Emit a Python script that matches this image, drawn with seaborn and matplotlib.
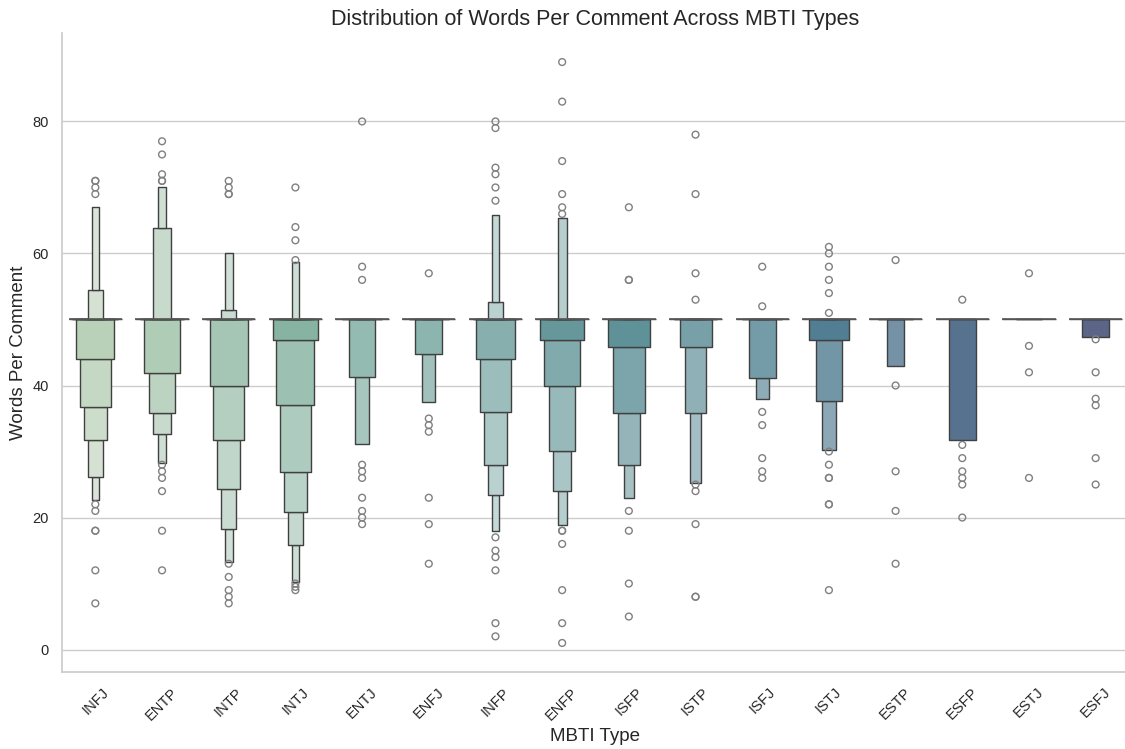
import numpy as np
import pandas as pd
import matplotlib
matplotlib.use("Agg")
import matplotlib.pyplot as plt
import seaborn as sns

# MBTI types in order of first appearance
mbti_types = ["INFJ", "ENTP", "INTP", "INTJ", "ENTJ", "ENFJ", "INFP", "ENFP",
              "ISFP", "ISTP", "ISFJ", "ISTJ", "ESTP", "ESFP", "ESTJ", "ESFJ"]

# Words-per-comment samples, stored as distinct values and how often each occurs
infj_words = [7, 12, 18, 21, 22, 22.7, 26.2, 31.8, 36.8, 44, 50, 54.4, 67, 69, 70, 71]
infj_counts = [1, 1, 2, 1, 1, 8, 14, 28, 56, 112, 1541, 14, 10, 1, 1, 2]

entp_words = [12, 18, 24, 26, 27, 28, 28.3, 32.6, 35.8, 41.9, 50, 63.8, 70.1, 71, 72, 75, 77]
entp_counts = [1, 1, 1, 1, 1, 1, 8, 14, 28, 56, 757, 14, 9, 2, 1, 1, 1]

intp_words = [7, 8, 9, 11, 13, 13.3, 18.3, 24.3, 31.8, 40, 50, 51.5, 60, 69, 70, 71]
intp_counts = [1, 1, 1, 1, 1, 9, 14, 28, 56, 112, 1541, 14, 10, 2, 1, 1]

intj_words = [9, 9.5, 10, 10.3, 15.8, 20.8, 26.9, 37, 46.9, 50, 58.7, 59, 62, 64, 70]
intj_counts = [1, 1, 1, 11, 14, 28, 56, 112, 224, 1331, 10, 1, 1, 1, 1]

entj_words = [19, 20, 21, 23, 26, 27, 28, 31.1, 41.3, 50, 56, 58, 80]
entj_counts = [1, 1, 1, 1, 1, 1, 1, 7, 14, 194, 1, 1, 1]

enfj_words = [13, 19, 23, 33, 34, 35, 37.5, 44.8, 50, 57]
enfj_counts = [1, 1, 1, 1, 1, 1, 8, 14, 196, 1]

infp_words = [2, 4, 12, 14, 15, 17, 18, 23.4, 28, 36, 44, 50, 52.6, 65.9,
              68, 70, 72, 73, 79, 80]
infp_counts = [1, 1, 1, 1, 1, 1, 8, 14, 28, 56, 112, 1541, 14, 8,
               1, 1, 1, 1, 1, 1]

enfp_words = [1, 4, 9, 16, 18, 18.9, 24, 30.1, 40, 46.9, 50, 65.4,
              66, 67, 69, 74, 83, 89]
enfp_counts = [1, 1, 1, 1, 2, 8, 14, 28, 56, 112, 659, 8,
               1, 1, 1, 1, 1, 1]

isfp_words = [5, 10, 18, 21, 22.9, 28, 35.8, 45.9, 50, 56, 67]
isfp_counts = [1, 1, 1, 1, 10, 14, 28, 56, 334, 2, 1]

istp_words = [8, 19, 24, 25, 25.2, 35.9, 45.9, 50, 53, 57, 69, 78]
istp_counts = [2, 1, 1, 1, 9, 14, 28, 389, 1, 1, 1, 1]

isfj_words = [26, 27, 29, 34, 36, 37.9, 41.2, 50, 52, 58]
isfj_counts = [1, 1, 1, 1, 1, 9, 14, 195, 1, 1]

istj_words = [9, 22, 26, 28, 30, 30.3, 37.7, 46.9, 50, 51, 54, 56, 58, 60, 61]
istj_counts = [1, 2, 2, 1, 1, 7, 14, 28, 163, 1, 1, 1, 1, 1, 1]

estp_words = [13, 21, 27, 40, 43, 50, 59]
estp_counts = [1, 1, 1, 1, 10, 98, 1]

esfp_words = [20, 25, 26, 27, 29, 31, 31.8, 50, 53]
esfp_counts = [1, 1, 1, 1, 1, 1, 8, 42, 1]

estj_words = [26, 42, 46, 50, 57]
estj_counts = [1, 1, 1, 53, 1]

esfj_words = [25, 29, 37, 38, 42, 47, 47.3, 50]
esfj_counts = [1, 1, 1, 1, 1, 1, 8, 43]

samples = {
    "INFJ": (infj_words, infj_counts), "ENTP": (entp_words, entp_counts),
    "INTP": (intp_words, intp_counts), "INTJ": (intj_words, intj_counts),
    "ENTJ": (entj_words, entj_counts), "ENFJ": (enfj_words, enfj_counts),
    "INFP": (infp_words, infp_counts), "ENFP": (enfp_words, enfp_counts),
    "ISFP": (isfp_words, isfp_counts), "ISTP": (istp_words, istp_counts),
    "ISFJ": (isfj_words, isfj_counts), "ISTJ": (istj_words, istj_counts),
    "ESTP": (estp_words, estp_counts), "ESFP": (esfp_words, esfp_counts),
    "ESTJ": (estj_words, estj_counts), "ESFJ": (esfj_words, esfj_counts),
}

frames = []
for t in mbti_types:
    words, counts = samples[t]
    frames.append(pd.DataFrame({"type": t,
                                "words_per_comment": np.repeat(words, counts)}))
df = pd.concat(frames, ignore_index=True)

sns.set_theme(style="whitegrid")
plt.rcParams["font.family"] = ["Liberation Sans", "DejaVu Sans"]

fig = plt.figure(figsize=(11.25, 7.49), dpi=100)
ax = fig.add_axes([62 / 1125, 77 / 749, 1067 / 1125, 639 / 749])

sns.boxenplot(
    data=df, x="type", y="words_per_comment", hue="type",
    order=mbti_types, hue_order=mbti_types, palette="crest", legend=False,
    width_method="linear", linewidth=1, linecolor="0.25",
    line_kws=dict(color="0.35", linewidth=1.2),
    flier_kws=dict(marker="o", s=24, facecolor="none", edgecolor="0.5", linewidth=1),
    ax=ax,
)

ax.set_title("Distribution of Words Per Comment Across MBTI Types", fontsize=15.5)
ax.set_xlabel("MBTI Type", fontsize=13.5)
ax.set_ylabel("Words Per Comment", fontsize=13.5)
ax.tick_params(axis="both", labelsize=10.5)
plt.setp(ax.get_xticklabels(), rotation=45)
sns.despine(ax=ax)

fig.savefig("out.png", dpi=100)
